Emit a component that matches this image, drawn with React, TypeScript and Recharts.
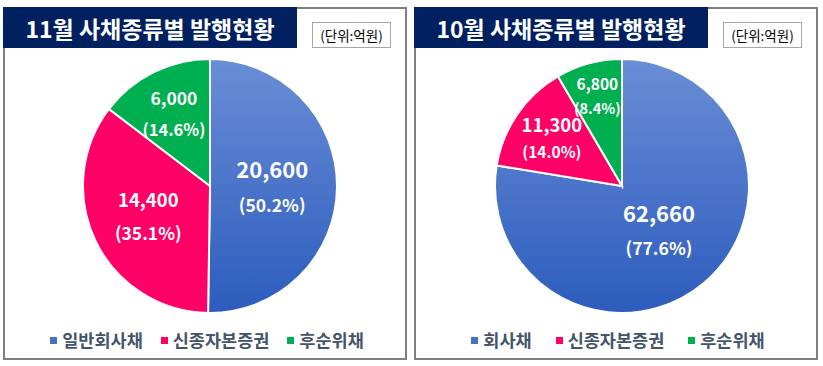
import React from 'react';
import { PieChart, Pie, Cell, Legend } from 'recharts';

const novTitle = '11월 사채종류별 발행현황';
const novCategories = ['일반회사채', '신종자본증권', '후순위채'];
const novValues = [20600, 14400, 6000];

const octTitle = '10월 사채종류별 발행현황';
const octCategories = ['회사채', '신종자본증권', '후순위채'];
const octValues = [62660, 11300, 6800];

const unitLabel = '(단위:억원)';

const colors = ['BLUE', '#FF0066', '#00B050'];
const legendColors = ['#4472C4', '#FF0066', '#00B050'];
const FONT = '"Noto Sans CJK KR", "Noto Sans", sans-serif';
const RAD = Math.PI / 180;

type Cfg = {
  id: string;
  title: string;
  categories: string[];
  values: number[];
  left: number;
  cx: number;
  radius: number[];
  valueSize: number[];
  pctSize: number[];
  gap: number[];
  legendGap: number;
};

const fmt = (n: number) => String(n).replace(/\B(?=(\d{3})+(?!\d))/g, ',');

function makeLabel(cfg: Cfg, total: number) {
  return (props: any) => {
    const { cx, cy, midAngle, outerRadius, index, value } = props;
    const r = outerRadius * cfg.radius[index];
    const x = cx + r * Math.cos(-midAngle * RAD);
    const y = cy + r * Math.sin(-midAngle * RAD);
    const pct = ((value / total) * 100).toFixed(1);
    const g = cfg.gap[index];
    return (
      <g key={`lbl-${index}`}>
        <text x={x} y={y - g / 2} textAnchor="middle" dominantBaseline="central" fill="#fff" fontWeight={700} fontSize={cfg.valueSize[index]} fontFamily={FONT}>
          {fmt(value)}
        </text>
        <text x={x} y={y + g / 2} textAnchor="middle" dominantBaseline="central" fill="#fff" fontWeight={700} fontSize={cfg.pctSize[index]} fontFamily={FONT}>
          {`(${pct}%)`}
        </text>
      </g>
    );
  };
}

function Panel({ cfg }: { cfg: Cfg }) {
  const data = cfg.categories.map((name, i) => ({ name, value: cfg.values[i] }));
  const total = cfg.values.reduce((a, b) => a + b, 0);
  const gradId = `blueGrad-${cfg.id}`;
  return (
    <div
      style={{
        position: 'absolute',
        left: cfg.left,
        top: 7,
        width: 404,
        height: 353,
        boxSizing: 'border-box',
        border: '2px solid #7F7F7F',
        background: '#fff',
      }}
    >
      <PieChart width={400} height={349} margin={{ top: 0, right: 0, bottom: 0, left: 0 }}>
        <defs>
          <linearGradient id={gradId} x1="0" y1="0" x2="0" y2="1">
            <stop offset="0%" stopColor="#6A8DD6" />
            <stop offset="100%" stopColor="#2C5CBD" />
          </linearGradient>
        </defs>
        <Pie
          data={data}
          dataKey="value"
          nameKey="name"
          cx={cfg.cx}
          cy={177}
          outerRadius={127}
          startAngle={90}
          endAngle={-270}
          stroke="#ffffff"
          strokeWidth={2}
          labelLine={false}
          label={makeLabel(cfg, total)}
          isAnimationActive={false}
        >
          {data.map((d, i) => (
            <Cell key={d.name} fill={colors[i] === 'BLUE' ? `url(#${gradId})` : colors[i]} />
          ))}
        </Pie>
        <Legend
          verticalAlign="bottom"
          wrapperStyle={{ left: 0, bottom: 7, width: 400 }}
          content={() => (
            <div style={{ display: 'flex', justifyContent: 'center', alignItems: 'center', paddingLeft: 4 }}>
              {data.map((d, i) => (
                <div key={d.name} style={{ display: 'flex', alignItems: 'center', marginRight: i < data.length - 1 ? cfg.legendGap : 0 }}>
                  <span style={{ display: 'inline-block', width: 7, height: 7, background: legendColors[i], marginRight: 5 }} />
                  <span style={{ fontFamily: FONT, fontWeight: 700, fontSize: 17.5, color: '#44546A', lineHeight: '22px' }}>{d.name}</span>
                </div>
              ))}
            </div>
          )}
        />
      </PieChart>
      <div
        style={{
          position: 'absolute',
          left: -2,
          top: -2,
          width: 294,
          height: 41,
          background: '#002060',
          color: '#fff',
          fontFamily: FONT,
          fontWeight: 700,
          fontSize: 23,
          display: 'flex',
          alignItems: 'center',
          justifyContent: 'center',
        }}
      >
        {cfg.title}
      </div>
      <div
        style={{
          position: 'absolute',
          left: 307,
          top: 13,
          width: 79,
          height: 26,
          boxSizing: 'border-box',
          border: '1px solid #A6A6A6',
          fontFamily: FONT,
          fontSize: 13.5,
          color: '#000',
          display: 'flex',
          alignItems: 'center',
          justifyContent: 'center',
        }}
      >
        {unitLabel}
      </div>
    </div>
  );
}

const novCfg: Cfg = {
  id: 'nov',
  title: novTitle,
  categories: novCategories,
  values: novValues,
  left: 3,
  cx: 205,
  radius: [0.49, 0.54, 0.64],
  valueSize: [22, 18.5, 17.5],
  pctSize: [17.5, 17.5, 16.5],
  gap: [36, 33, 31],
  legendGap: 18,
};

const octCfg: Cfg = {
  id: 'oct',
  title: octTitle,
  categories: octCategories,
  values: octValues,
  left: 414,
  cx: 206,
  radius: [0.45, 0.67, 0.74],
  valueSize: [22, 18.5, 15.5],
  pctSize: [17.5, 15.5, 14.5],
  gap: [35, 27, 25],
  legendGap: 24,
};

export default function App() {
  return (
    <div style={{ position: 'absolute', left: 0, top: 0, width: 823, height: 366, background: '#fff' }}>
      <Panel cfg={novCfg} />
      <Panel cfg={octCfg} />
    </div>
  );
}
